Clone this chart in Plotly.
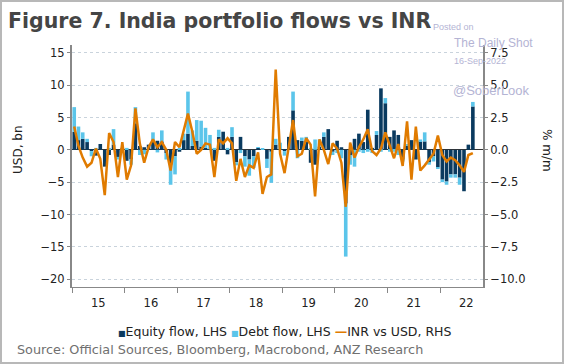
import pandas as pd
import plotly.graph_objects as go

# Monthly data, Jan 2015 - Aug 2022
months = pd.date_range("2015-01-01", "2022-08-01", freq="MS")

equity_flow = [
    2.8, 1.5, 1.7, 1.2, -0.2, -0.9, 0.9, -2.6, -0.8, 0.8, -1.1, 0.3,      # 2015
    -1.7, -1.5, 4.1, 0.6, 0.4, 0.8, 1.3, 1.4, 1.3, -0.5, -2.3, -1.0,      # 2016
    -0.3, 1.5, 2.5, 0.6, 1.4, 0.5, 0.3, 0.1, -1.7, 2.0, 2.8, -0.7,        # 2017
    2.0, -1.9, 2.0, -1.0, -1.5, -1.0, 0.3, 0.0, -1.4, -0.3, 0.8, 0.1,     # 2018
    -0.2, 2.0, 6.1, 1.5, 1.4, 1.3, -2.0, -2.3, 0.5, 2.0, 3.2, -0.3,       # 2019
    1.4, 0.4, -8.3, -0.8, 1.7, 2.5, 1.2, 6.2, 0.3, 2.3, 9.5, 7.2,         # 2020
    2.0, 3.0, 2.3, -1.5, 0.6, 1.5, -1.5, 1.3, 1.3, -2.0, -1.0, -2.7,      # 2021
    -4.6, -4.9, -3.8, -3.8, -4.3, -6.4, 0.8, 6.7,                         # 2022
]

debt_flow = [
    3.8, 2.1, 1.0, 0.5, -0.8, 0.3, 0.0, 0.0, 0.3, 2.4, -0.4, -0.2,        # 2015
    0.3, -0.8, 2.5, -0.8, -0.7, 0.0, 1.4, -0.4, 1.7, -1.0, -3.1, -2.8,    # 2016
    0.2, 1.0, 6.5, 2.4, 3.2, 4.0, 3.1, 2.2, 0.3, 1.1, 0.0, 0.3,           # 2017
    1.5, -0.5, -0.5, -1.6, -2.5, -1.8, 0.1, 0.2, -1.4, -4.8, 0.9, 1.0,    # 2018
    -0.7, 0.0, 2.9, -1.3, 0.5, 0.7, 0.2, 1.6, 1.1, 0.7, 0.0, -0.5,        # 2019
    -0.5, -1.3, -8.2, -1.5, -2.6, -0.3, -0.5, -0.3, -0.5, 0.6, -0.3, 0.8, # 2020
    -0.3, -0.3, -0.8, -0.3, 0.3, 0.0, 0.0, 0.3, 1.4, -0.3, -0.8, -0.2,    # 2021
    -0.4, -0.5, -0.5, -0.5, -1.1, 0.0, 0.0, 0.7,                          # 2022
]

inr_vs_usd = [
    1.8, 0.3, -0.6, -1.3, -1.0, 0.1, -0.7, -3.5, 1.3, 0.6, -2.1, 0.6,     # 2015
    -2.3, -1.2, 3.2, 0.5, -1.0, 0.2, 0.8, 0.2, 0.6, 0.0, -1.6, 0.6,       # 2016
    0.2, 1.5, 2.8, 1.4, -0.3, 0.0, 0.5, 0.4, -2.1, 0.8, 0.5, 0.9,         # 2017
    0.5, -2.4, -0.7, -2.1, -1.2, -1.4, -0.2, -3.4, -2.1, -1.9, 6.2, -0.3, # 2018
    -1.8, 0.25, 2.3, -0.5, -0.3, 0.9, 0.4, -3.6, 0.8, 0.0, -1.1, 0.5,     # 2019
    0.1, -1.0, -4.4, 0.55, -0.6, 0.2, 0.8, 1.6, -0.1, -0.4, 0.1, 1.35,    # 2020
    0.25, -0.65, 0.45, -1.25, 2.2, -2.3, 1.8, -1.6, -1.2, -0.7, -0.3, 1.1,# 2021
    -0.4, -0.9, -0.6, -0.8, -1.2, -1.7, -0.4, -0.25,                      # 2022
]

left_ticks = [-20, -15, -10, -5, 0, 5, 10, 15]
right_ticks = [-10.0, -7.5, -5.0, -2.5, 0.0, 2.5, 5.0, 7.5]

C_EQ = "#0a3a5f"
C_DEBT = "#5bc5ea"
C_INR = "#e07b00"
FONT = "DejaVu Sans"

fig = go.Figure()
fig.add_trace(go.Bar(x=months, y=equity_flow, name="Equity flow, LHS",
                     marker_color=C_EQ, marker_line_width=0,
                     xperiod="M1", xperiodalignment="middle"))
fig.add_trace(go.Bar(x=months, y=debt_flow, name="Debt flow, LHS",
                     marker_color=C_DEBT, marker_line_width=0,
                     xperiod="M1", xperiodalignment="middle"))
fig.add_trace(go.Scatter(x=months, y=inr_vs_usd, name="INR vs USD, RHS",
                         mode="lines", line=dict(color=C_INR, width=2.5),
                         xperiod="M1", xperiodalignment="middle", yaxis="y2"))

# plot area: x 72..483, y 45..287 (px)
L, R, T, B = 72, 483, 45, 287
W, H = 564, 364
pw, ph = R - L, B - T

def px_x(p):
    return (p - L) / pw

def px_y(p):
    return (B - p) / ph

fig.update_layout(
    width=W, height=H,
    margin=dict(l=L, r=W - R, t=T, b=H - B, pad=0),
    paper_bgcolor="white", plot_bgcolor="white",
    barmode="relative", bargap=0.15,
    showlegend=False,
    font=dict(family=FONT, size=11, color="#333333"),
    title=dict(text="<b>Figure 7. India portfolio flows vs INR</b>",
               font=dict(family=FONT, size=20.5, color="#454545"),
               xref="container", yref="container", x=8 / W, xanchor="left",
               y=1 - 21 / H, yanchor="middle"),
    xaxis=dict(type="date", range=["2015-01-01", "2022-10-26"],
               dtick="M12", tick0="2015-01-01", ticklabelmode="period",
               tickformat="%y", ticks="outside", ticklen=5, tickcolor="#888888",
               showline=True, linecolor="#888888", linewidth=1,
               showgrid=False, zeroline=False,
               tickfont=dict(family=FONT, size=11.5, color="#222222")),
    yaxis=dict(range=[-21.2, 16.2], tickvals=left_ticks,
               ticks="outside", ticklen=3, tickcolor="#888888",
               showline=True, linecolor="#888888", linewidth=2,
               showgrid=True, gridcolor="#c9d3dc", griddash="dot", gridwidth=1,
               zeroline=True, zerolinecolor="#333333", zerolinewidth=1,
               tickfont=dict(family=FONT, size=11.5, color="#222222")),
    yaxis2=dict(range=[-10.6, 8.1], tickvals=right_ticks, tickformat=".1f",
                overlaying="y", side="right",
                ticks="outside", ticklen=3, tickcolor="#888888",
                showline=True, linecolor="#888888", linewidth=2,
                showgrid=False, zeroline=False,
                tickfont=dict(family=FONT, size=11.5, color="#222222")),
)

legend_text = (f"<span style='color:{C_EQ};font-size:8px'>■</span>Equity flow, LHS "
               f"<span style='color:{C_DEBT};font-size:8px'>■</span>Debt flow, LHS "
               f"<span style='color:{C_INR}'><b>—</b></span>INR vs USD, RHS")

annotations = [
    dict(text="USD, bn", x=px_x(18), y=px_y(150), textangle=-90,
         font=dict(family=FONT, size=12, color="#222222")),
    dict(text="% m/m", x=px_x(547), y=px_y(150), textangle=90,
         font=dict(family=FONT, size=12, color="#222222")),
    dict(text=legend_text, x=px_x(285), y=px_y(331),
         font=dict(family=FONT, size=12.5, color="#222222")),
    dict(text="Source: Official Sources, Bloomberg, Macrobond, ANZ Research",
         x=px_x(15), y=px_y(349), xanchor="left",
         font=dict(family=FONT, size=12.8, color="#707070")),
    dict(text="Posted on", x=px_x(431), y=px_y(27), xanchor="left",
         font=dict(family="Liberation Sans", size=9, color="#b4b4d4")),
    dict(text="The Daily Shot", x=px_x(452), y=px_y(43), xanchor="left",
         font=dict(family="Liberation Sans", size=12, color="#b4b4d4")),
    dict(text="16-Sep-2022", x=px_x(452), y=px_y(61), xanchor="left",
         font=dict(family="Liberation Sans", size=9, color="#b4b4d4")),
    dict(text="@SoberLook", x=px_x(451), y=px_y(90), xanchor="left",
         font=dict(family="Liberation Sans", size=13, color="#b4b4d4")),
]
for a in annotations:
    a.setdefault("xanchor", "center")
    a.update(xref="paper", yref="paper", yanchor="middle", showarrow=False)
fig.update_layout(annotations=annotations)

fig.add_shape(type="rect", xref="paper", yref="paper",
              x0=px_x(1), x1=px_x(W - 1), y0=px_y(H - 1), y1=px_y(1),
              line=dict(color="#b8b8b8", width=2), fillcolor="rgba(0,0,0,0)")

fig.write_html("out.html", config={"displayModeBar": False},
               post_script="document.body.style.margin='0';document.body.style.overflow='hidden';")
